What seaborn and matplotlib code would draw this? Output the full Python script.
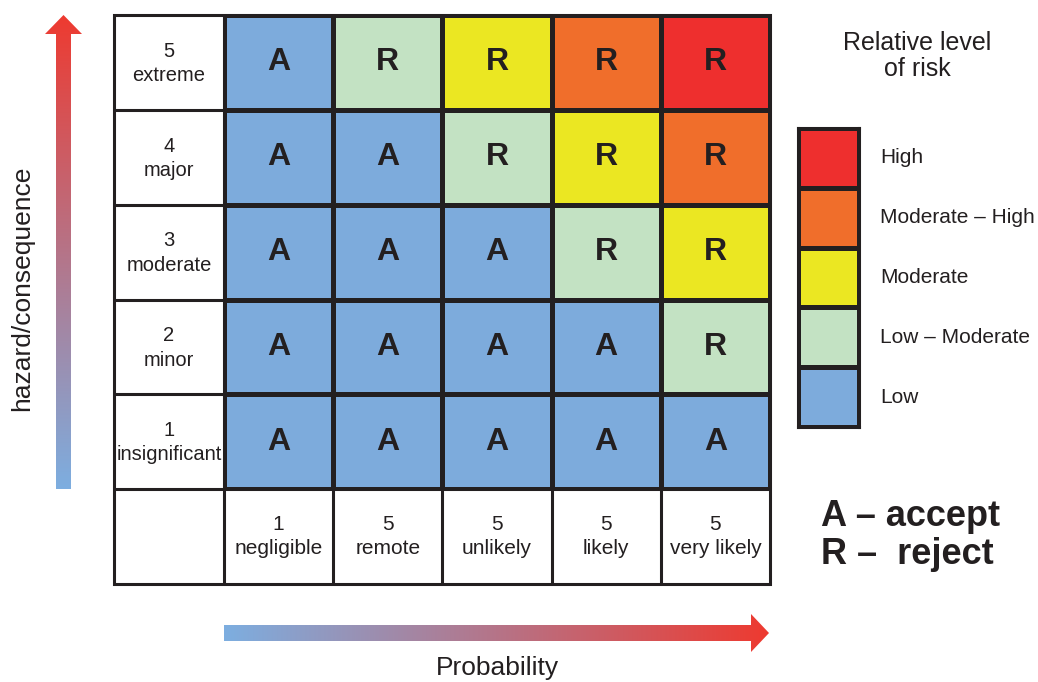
import numpy as np
import matplotlib
matplotlib.use("Agg")
import matplotlib.pyplot as plt
from matplotlib.colors import ListedColormap, LinearSegmentedColormap
from matplotlib.patches import Polygon, Rectangle
import seaborn as sns

sns.set_style("white")
plt.rcParams["font.family"] = ["Liberation Sans", "DejaVu Sans"]

# ---- data ------------------------------------------------------------------
severity_labels = ["5\nextreme", "4\nmajor", "3\nmoderate", "2\nminor",
                   "1\ninsignificant"]
probability_labels = ["1\nnegligible", "5\nremote", "5\nunlikely", "5\nlikely",
                      "5\nvery likely"]
# risk level per cell, rows top (extreme) -> bottom (insignificant)
risk_levels = [
    [0, 1, 2, 3, 4],
    [0, 0, 1, 2, 3],
    [0, 0, 0, 1, 2],
    [0, 0, 0, 0, 1],
    [0, 0, 0, 0, 0],
]
level_names = ["Low", "Low \u2013 Moderate", "Moderate", "Moderate \u2013 High", "High"]
level_colors = ["#7dabdc", "#c3e2c3", "#ebe722", "#f06e2b", "#ee2f2e"]
decision = {0: "A"}  # anything above Low is rejected

INK = "#231f20"
BLUE_END = "#7daee0"
RED_END = "#ee3a30"

W, H = 1038, 682
fig = plt.figure(figsize=(W / 100, H / 100), dpi=100)


def px_axes(x0, y0, x1, y1):
    """axes placed by pixel box (top-left origin)"""
    return fig.add_axes([x0 / W, 1 - y1 / H, (x1 - x0) / W, (y1 - y0) / H])


# ---- table geometry --------------------------------------------------------
tx0, tx1 = 114, 770
ty0, ty1 = 15, 584
lab_w = 110
row_h = (ty1 - ty0) / 6
col_w = (tx1 - tx0 - lab_w) / 5
gx0 = tx0 + lab_w
gy1 = ty0 + 5 * row_h

# ---- risk matrix -----------------------------------------------------------
levels = np.array(risk_levels)
letters = np.vectorize(lambda v: decision.get(v, "R"))(levels)
cmap = ListedColormap(level_colors)

hax = px_axes(gx0, ty0, tx1, gy1)
sns.heatmap(levels, ax=hax, cmap=cmap, vmin=-0.5, vmax=4.5, cbar=False,
            annot=letters, fmt="", linewidths=2.2, linecolor=INK,
            annot_kws={"fontsize": 23, "fontweight": "bold", "color": INK})
hax.set_xticks([])
hax.set_yticks([])

# ---- legend column ---------------------------------------------------------
lax = px_axes(798, 128, 859, 427)
legend_vals = np.arange(len(level_names))[::-1].reshape(-1, 1)
sns.heatmap(legend_vals, ax=lax, cmap=cmap, vmin=-0.5, vmax=4.5, cbar=False,
            linewidths=2.2, linecolor=INK)
lax.set_xticks([])
lax.set_yticks([])
for s in lax.spines.values():
    s.set_visible(True)
    s.set_linewidth(2.2)
    s.set_color(INK)

# ---- overlay in pixel coords -----------------------------------------------
ax = fig.add_axes([0, 0, 1, 1])
ax.set_xlim(0, W)
ax.set_ylim(H, 0)
ax.axis("off")
ax.set_zorder(5)

# table frame and label cells
ax.add_patch(Rectangle((tx0, ty0), tx1 - tx0, ty1 - ty0, fill=False,
                       lw=2.2, ec=INK))
ax.plot([gx0, gx0], [ty0, ty1], color=INK, lw=2.2)
for i in range(1, 6):
    y = ty0 + i * row_h
    ax.plot([tx0, gx0 if i < 5 else tx1], [y, y], color=INK, lw=2.2)
for j in range(1, 5):
    x = gx0 + j * col_w
    ax.plot([x, x], [gy1, ty1], color=INK, lw=2.2)

for i, lab in enumerate(severity_labels):
    ax.text(tx0 + lab_w / 2, ty0 + (i + 0.5) * row_h + 1, lab, ha="center",
            va="center", fontsize=14.5, color=INK, linespacing=1.35)
for j, lab in enumerate(probability_labels):
    ax.text(gx0 + (j + 0.5) * col_w, gy1 + row_h / 2, lab, ha="center",
            va="center", fontsize=15, color=INK, linespacing=1.35)

# legend texts
ax.text(917, 56, "Relative level\nof risk", ha="center", va="center",
        fontsize=18, color=INK, linespacing=1.1)
box_h = (427 - 128) / len(level_names)
for k, name in enumerate(level_names[::-1]):
    ax.text(880, 128 + (k + 0.5) * box_h, name, ha="left", va="center",
            fontsize=15, color=INK)

ax.text(821, 517, "A \u2013 accept", ha="left", va="center", fontsize=26,
        fontweight="bold", color=INK)
ax.text(821, 555, "R \u2013  reject", ha="left", va="center", fontsize=26,
        fontweight="bold", color=INK)

# gradient arrows
grad_cmap = LinearSegmentedColormap.from_list("br", [BLUE_END, RED_END])
grad = np.linspace(0, 1, 256)

v_arrow = Polygon([(56, 489), (71, 489), (71, 34), (82, 34), (63.5, 15),
                   (45, 34), (56, 34)], closed=True, fc="none", ec="none")
ax.add_patch(v_arrow)
im = ax.imshow(grad.reshape(-1, 1)[::-1], cmap=grad_cmap, aspect="auto",
               extent=(45, 82, 489, 15), origin="upper")
im.set_clip_path(v_arrow)

h_arrow = Polygon([(224, 625), (751, 625), (751, 614), (769, 633),
                   (751, 652), (751, 641), (224, 641)], closed=True,
                  fc="none", ec="none")
ax.add_patch(h_arrow)
im2 = ax.imshow(grad.reshape(1, -1), cmap=grad_cmap, aspect="auto",
                extent=(224, 769, 652, 614))
im2.set_clip_path(h_arrow)
ax.set_xlim(0, W)
ax.set_ylim(H, 0)

ax.text(497, 668, "Probability", ha="center", va="center", fontsize=19,
        color=INK)
ax.text(22, 288, "hazard/consequence", ha="center", va="center",
        fontsize=19, color=INK, rotation=90)

fig.savefig("out.png", dpi=100)
